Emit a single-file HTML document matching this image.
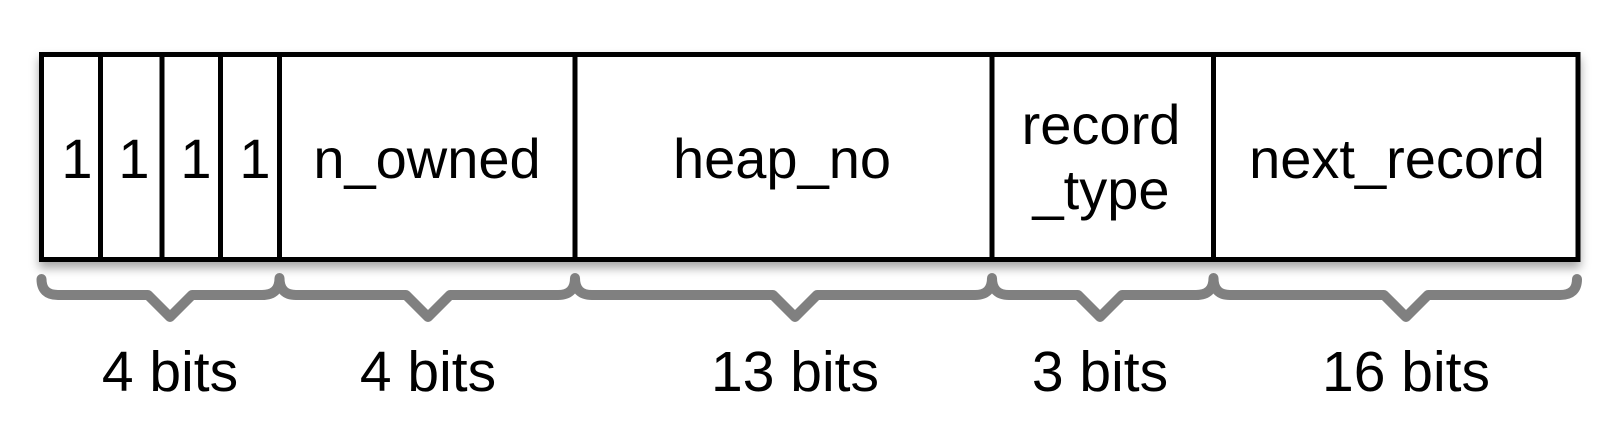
<!DOCTYPE html>
<html><head><meta charset="utf-8"><style>
html,body{margin:0;padding:0;background:#fff;}
svg{display:block;}
text{font-family:"Liberation Sans",Arial,sans-serif;font-size:56px;fill:#000;text-anchor:middle;}
text.b{font-size:57px;}
</style></head><body>
<svg width="1616" height="426" viewBox="0 0 1616 426">
<defs>
<filter id="sh" x="-5%" y="-20%" width="110%" height="150%">
<feDropShadow dx="0" dy="6" stdDeviation="5" flood-color="#000" flood-opacity="0.35"/>
</filter>
</defs>
<rect x="41.5" y="54.5" width="1536.5" height="205" fill="#fff" stroke="#000" stroke-width="5" filter="url(#sh)"/>
<g stroke="#000" stroke-width="5">
<line x1="100.5" y1="54.5" x2="100.5" y2="259.5"/>
<line x1="162" y1="54.5" x2="162" y2="259.5"/>
<line x1="220.5" y1="54.5" x2="220.5" y2="259.5"/>
<line x1="279.5" y1="54.5" x2="279.5" y2="259.5"/>
<line x1="575" y1="54.5" x2="575" y2="259.5"/>
<line x1="992" y1="54.5" x2="992" y2="259.5"/>
<line x1="1213.5" y1="54.5" x2="1213.5" y2="259.5"/>
</g>
<text x="77" y="178">1</text>
<text x="134" y="178">1</text>
<text x="196" y="178">1</text>
<text x="255" y="178">1</text>
<text x="427" y="178">n_owned</text>
<text x="782" y="178">heap_no</text>
<text x="1101" y="144">record</text>
<text x="1101" y="209">_type</text>
<text x="1397" y="178">next_record</text>
<g fill="none" stroke="#808080" stroke-width="10" stroke-linecap="round" stroke-linejoin="round">
<path d="M41.5,279 Q41.5,295 58,295 L148,295 L170,317 L192,295 L262,295 Q279.5,295 279.5,278 Q279.5,295 296,295 L406,295 L428,317 L450,295 L558,295 Q575,295 575,278 Q575,295 592,295 L773,295 L795,317 L817,295 L975,295 Q992,295 992,278 Q992,295 1009,295 L1078,295 L1100,317 L1122,295 L1196,295 Q1213.5,295 1213.5,278 Q1213.5,295 1230,295 L1384,295 L1406,317 L1428,295 L1560,295 Q1577,295 1577,279"/>
</g>
<text class="b" x="170" y="391">4 bits</text>
<text class="b" x="428" y="391">4 bits</text>
<text class="b" x="795" y="391">13 bits</text>
<text class="b" x="1100" y="391">3 bits</text>
<text class="b" x="1406" y="391">16 bits</text>
</svg>
</body></html>
